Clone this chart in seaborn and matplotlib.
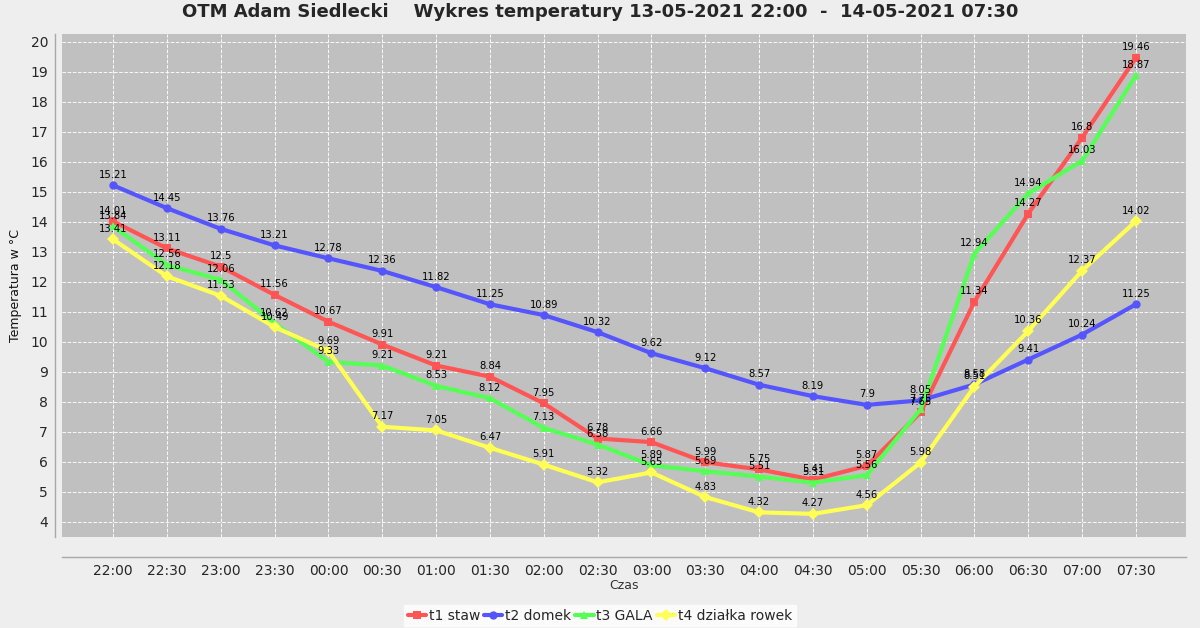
import matplotlib
matplotlib.use("Agg")
import matplotlib.pyplot as plt
import seaborn as sns
import pandas as pd

times = ["22:00", "22:30", "23:00", "23:30", "00:00", "00:30", "01:00", "01:30",
         "02:00", "02:30", "03:00", "03:30", "04:00", "04:30", "05:00", "05:30",
         "06:00", "06:30", "07:00", "07:30"]
t1_staw = [14.01, 13.11, 12.5, 11.56, 10.67, 9.91, 9.21, 8.84, 7.95, 6.78,
           6.66, 5.99, 5.75, 5.41, 5.87, 7.65, 11.34, 14.27, 16.8, 19.46]
t2_domek = [15.21, 14.45, 13.76, 13.21, 12.78, 12.36, 11.82, 11.25, 10.89, 10.32,
            9.62, 9.12, 8.57, 8.19, 7.9, 8.05, 8.58, 9.41, 10.24, 11.25]
t3_gala = [13.84, 12.56, 12.06, 10.62, 9.33, 9.21, 8.53, 8.12, 7.13, 6.58,
           5.89, 5.69, 5.51, 5.31, 5.56, 7.75, 12.94, 14.94, 16.03, 18.87]
t4_dzialka = [13.41, 12.18, 11.53, 10.49, 9.69, 7.17, 7.05, 6.47, 5.91, 5.32,
              5.65, 4.83, 4.32, 4.27, 4.56, 5.98, 8.51, 10.36, 12.37, 14.02]
series_names = ["t1 staw", "t2 domek", "t3 GALA", "t4 działka rowek"]
series_values = [t1_staw, t2_domek, t3_gala, t4_dzialka]
colors = ["#FF5555", "#5555FF", "#55FF55", "#FFFF55"]
markers = ["s", "o", "^", "D"]
yticks = list(range(4, 21))

rows = []
for name, vals in zip(series_names, series_values):
    for t, v in zip(times, vals):
        rows.append({"Czas": t, "temp": v, "seria": name})
df = pd.DataFrame(rows)

sns.set_style("whitegrid", {"axes.facecolor": "#C0C0C0", "figure.facecolor": "#EEEEEE",
                            "grid.color": "white", "grid.linestyle": "--"})
plt.rcParams["font.family"] = ["DejaVu Sans"]

fig = plt.figure(figsize=(12, 6.28), dpi=100)
ax = fig.add_axes([62 / 1200, 1 - 537 / 628, (1186 - 62) / 1200, (537 - 34) / 628])

sns.lineplot(data=df, x="Czas", y="temp", hue="seria", style="seria",
             palette=dict(zip(series_names, colors)),
             markers=dict(zip(series_names, markers)),
             dashes=False, linewidth=3, markersize=6, markeredgewidth=0,
             sort=False, ax=ax, legend=True)

for vals in series_values:
    for i, v in enumerate(vals):
        ax.annotate(f"{v:g}", (i, v), xytext=(0, 4), textcoords="offset points",
                    ha="center", va="bottom", fontsize=7.2, color="black")

ax.set_xlim(-0.95, 19.93)
ax.set_ylim(3.5, 20.25)
ax.set_yticks(yticks)
ax.set_yticklabels([str(y) for y in yticks])
ax.grid(True, color="white", linestyle="--", linewidth=0.7, alpha=0.9)

for s in ["top", "right"]:
    ax.spines[s].set_visible(False)
ax.spines["left"].set_position(("outward", 5))
ax.spines["bottom"].set_position(("outward", 14.4))
ax.spines["left"].set_color("#A8A8A8")
ax.spines["bottom"].set_color("#A8A8A8")
ax.spines["left"].set_linewidth(1)
ax.spines["bottom"].set_linewidth(1)
ax.tick_params(axis="x", direction="in", length=3, color="#A8A8A8", labelsize=10, pad=5)
ax.tick_params(axis="y", direction="out", length=3, color="#A8A8A8", labelsize=10, pad=2)

ax.set_xlabel("Czas", fontsize=9, color="#333333", labelpad=1)
ax.set_ylabel("Temperatura w °C", fontsize=9, color="#111111", labelpad=6)

fig.suptitle("OTM Adam Siedlecki    Wykres temperatury 13-05-2021 22:00  -  14-05-2021 07:30",
             x=0.5, y=0.995, fontsize=13, fontweight="bold", va="top")

handles, labels = ax.get_legend_handles_labels()
ax.get_legend().remove()
leg = fig.legend(handles, labels, loc="lower center", bbox_to_anchor=(0.5, -0.008),
                 ncol=4, frameon=True, fontsize=10, handlelength=1.3, handletextpad=0.2,
                 columnspacing=0.3, borderpad=0.25, fancybox=False)
leg.get_frame().set_facecolor("white")
leg.get_frame().set_edgecolor("white")

fig.savefig("out.png", dpi=100, facecolor="#EEEEEE")
